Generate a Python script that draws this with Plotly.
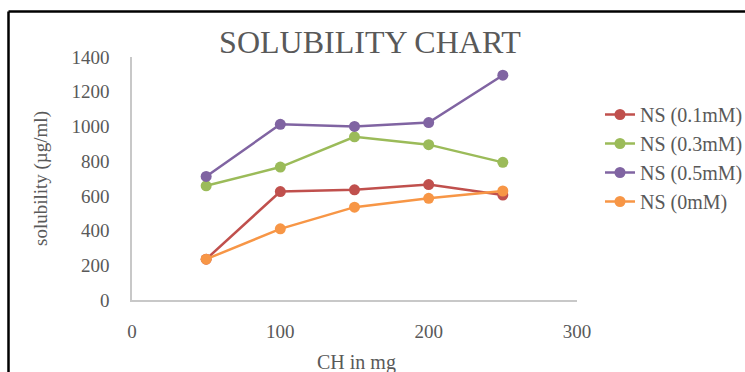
import plotly.graph_objects as go

# CH amount (mg) on the x axis
ch_mg = [50, 100, 150, 200, 250]

# solubility (µg/ml) per NS concentration
ns_01 = [235, 625, 635, 665, 605]
ns_03 = [658, 766, 940, 895, 793]
ns_05 = [712, 1012, 1000, 1022, 1295]
ns_00 = [235, 410, 535, 586, 628]

series_names = ["NS (0.1mM)", "NS (0.3mM)", "NS (0.5mM)", "NS (0mM)"]
series_values = [ns_01, ns_03, ns_05, ns_00]
series_colors = ["#C0504D", "#9BBB59", "#8064A2", "#F79646"]

x_ticks = [0, 100, 200, 300]
y_ticks = [0, 200, 400, 600, 800, 1000, 1200, 1400]

FONT = "Liberation Serif, Times New Roman, serif"
TXT = "#595959"

W, H = 745, 372
L, R, T, B = 132, 168, 57, 72
pw, ph = W - L - R, H - T - B

def px_x(px):
    return (px - L) / pw

def px_y(py):
    return (H - B - py) / ph

fig = go.Figure()
for name, vals, col in zip(series_names, series_values, series_colors):
    fig.add_trace(go.Scatter(
        x=ch_mg, y=vals, name=name, mode="lines+markers",
        line=dict(color=col, width=2.5),
        marker=dict(color=col, size=11),
    ))

fig.update_layout(
    width=W, height=H,
    margin=dict(l=L, r=R, t=T, b=B, autoexpand=False),
    paper_bgcolor="white", plot_bgcolor="white",
    font=dict(family=FONT, color=TXT, size=19),
    title=dict(text="SOLUBILITY CHART", x=370 / W, xref="container",
               xanchor="center", y=1 - 42 / H, yanchor="middle",
               font=dict(family=FONT, size=32, color=TXT)),
    xaxis=dict(range=[0, 300], tickvals=x_ticks, showgrid=False,
               showline=True, linecolor="#C8C8C8", linewidth=1.5,
               zeroline=False, ticks="", ticklabelstandoff=13,
               tickfont=dict(size=19, color=TXT, family=FONT)),
    yaxis=dict(range=[0, 1400], tickvals=y_ticks, showgrid=False,
               showline=True, linecolor="#C8C8C8", linewidth=1.5,
               zeroline=False, ticks="", ticklabelstandoff=17,
               tickfont=dict(size=19, color=TXT, family=FONT)),
    legend=dict(x=px_x(600), y=px_y(95), xanchor="left", yanchor="top",
                font=dict(size=20, color=TXT, family=FONT),
                bgcolor="rgba(0,0,0,0)", tracegroupgap=0, itemwidth=30),
    showlegend=True,
)

fig.add_annotation(text="CH in mg", xref="paper", yref="paper",
                   x=px_x(356), y=px_y(362), showarrow=False,
                   xanchor="center", yanchor="middle",
                   font=dict(size=20, color=TXT, family=FONT))
fig.add_annotation(text="solubility (µg/ml)", xref="paper", yref="paper",
                   x=px_x(41), y=px_y(179), showarrow=False, textangle=-90,
                   xanchor="center", yanchor="middle",
                   font=dict(size=19, color=TXT, family=FONT))

# black frame along the top and left edges
fig.add_shape(type="line", xref="paper", yref="paper", layer="above",
              x0=px_x(8.5), x1=px_x(760), y0=px_y(11.5), y1=px_y(11.5),
              line=dict(color="black", width=2.5))
fig.add_shape(type="line", xref="paper", yref="paper", layer="above",
              x0=px_x(8.5), x1=px_x(8.5), y0=px_y(11.5), y1=px_y(390),
              line=dict(color="black", width=2.5))

fig.write_html("out.html")
